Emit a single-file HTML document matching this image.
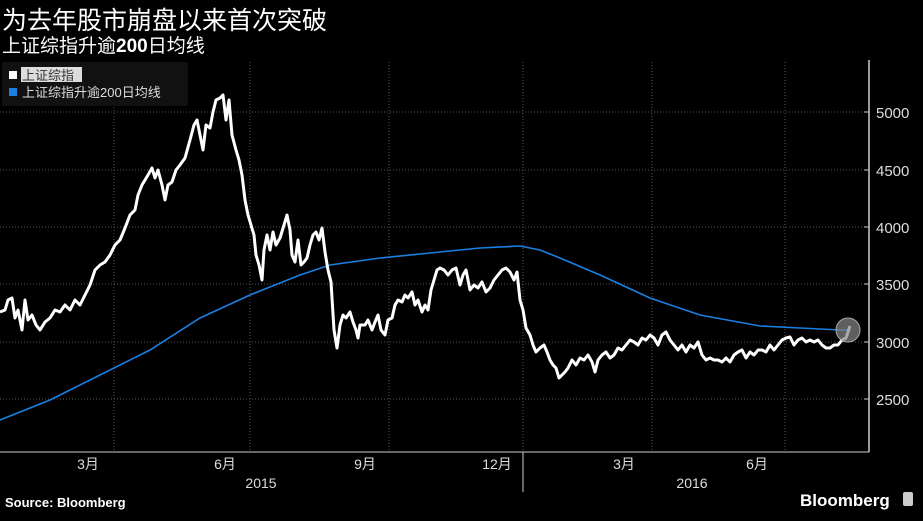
<!DOCTYPE html>
<html><head><meta charset="utf-8"><style>
body{margin:0;background:#000;width:923px;height:516px;overflow:hidden;font-family:"Liberation Sans","Noto Sans CJK SC",sans-serif;}
</style></head><body>
<svg width="923" height="516" xmlns="http://www.w3.org/2000/svg" font-family="Liberation Sans, Noto Sans CJK SC, sans-serif">
<rect width="923" height="516" fill="#000"/>
<text x="2" y="29" fill="#fff" font-size="25">为去年股市崩盘以来首次突破</text>
<text x="2" y="52" fill="#fff" font-size="19">上证综指升逾<tspan font-weight="bold">200</tspan>日均线</text>
<g stroke="#555" stroke-dasharray="1,2" stroke-width="1">
<line x1="0" x2="869" y1="112" y2="112"/><line x1="0" x2="869" y1="170" y2="170"/><line x1="0" x2="869" y1="227" y2="227"/><line x1="0" x2="869" y1="284" y2="284"/><line x1="0" x2="869" y1="342" y2="342"/><line x1="0" x2="869" y1="399" y2="399"/>
<line x1="114" x2="114" y1="62" y2="452"/><line x1="250" x2="250" y1="62" y2="452"/><line x1="389" x2="389" y1="62" y2="452"/><line x1="523" x2="523" y1="62" y2="452"/><line x1="652" x2="652" y1="62" y2="452"/><line x1="785" x2="785" y1="62" y2="452"/>
</g>
<rect x="2" y="62" width="186" height="44" fill="#111" rx="2"/>
<rect x="9" y="71" width="8" height="8" fill="#fff"/>
<rect x="21" y="67" width="61" height="15" fill="#ddd"/>
<text x="22" y="80" fill="#333" font-size="13">上证综指</text>
<rect x="9" y="88" width="8" height="8" fill="#1a7fe0"/>
<text x="22" y="97" fill="#ddd" font-size="13">上证综指升逾200日均线</text>
<line x1="869" y1="60" x2="869" y2="452" stroke="#ccc" stroke-width="1.5"/>
<line x1="0" y1="452" x2="869" y2="452" stroke="#ccc" stroke-width="1"/>
<g fill="#ddd" font-size="15">
<text x="876" y="118">5000</text><text x="876" y="176">4500</text><text x="876" y="233">4000</text><text x="876" y="290">3500</text><text x="876" y="348">3000</text><text x="876" y="405">2500</text>
</g>
<g stroke="#ccc"><line x1="864" x2="869" y1="112" y2="112"/><line x1="864" x2="869" y1="170" y2="170"/><line x1="864" x2="869" y1="227" y2="227"/><line x1="864" x2="869" y1="284" y2="284"/><line x1="864" x2="869" y1="342" y2="342"/><line x1="864" x2="869" y1="399" y2="399"/>
<line x1="523" x2="523" y1="452" y2="492"/></g>
<g fill="#ddd" font-size="14" text-anchor="middle">
<text x="88" y="469">3月</text><text x="225" y="469">6月</text><text x="365" y="469">9月</text><text x="497" y="469">12月</text><text x="624" y="469">3月</text><text x="757" y="469">6月</text>
<text x="261" y="488">2015</text><text x="692" y="488">2016</text>
</g>
<polyline fill="none" stroke="#1a7fe0" stroke-width="1.6" points="0,420 50,400 100,375 150,350 200,318 250,295 300,275 330,265 380,258 430,253 480,248 520,246 540,250 560,258 600,275 650,298 700,315 760,326 800,328 840,330 850,330"/>
<polyline fill="none" stroke="#fff" stroke-width="3" stroke-linejoin="round" points="0,312 5,310 8,300 12,298 15,318 18,310 22,330 25,300 28,320 32,315 36,325 40,330 45,322 50,318 55,310 60,312 65,305 70,310 75,300 80,305 85,295 90,285 95,270 100,265 105,262 110,255 115,245 120,240 125,228 130,215 135,210 138,195 142,185 148,175 152,168 155,178 158,170 162,185 165,200 168,185 172,182 176,170 180,165 185,158 190,140 194,125 197,120 200,135 203,150 206,125 210,128 213,112 216,100 220,98 223,95 226,120 229,100 232,135 236,150 239,160 242,175 245,200 248,215 251,225 254,235 256,255 259,265 262,280 264,250 267,235 270,250 273,232 276,245 280,238 284,225 287,215 290,230 292,255 295,262 298,240 301,265 304,262 307,258 310,245 313,235 316,232 319,240 322,228 325,252 328,270 331,282 334,330 337,348 340,325 343,315 346,318 350,312 353,322 356,330 358,338 360,325 365,325 368,320 372,330 375,322 378,315 381,330 385,335 388,320 392,318 395,305 398,300 402,302 405,295 408,298 412,292 415,305 418,300 422,312 425,305 428,310 431,290 434,280 437,270 440,268 444,270 448,275 452,270 456,268 460,285 463,275 466,270 470,290 474,285 478,288 482,282 486,292 490,288 494,280 498,275 502,270 506,268 510,272 514,280 517,272 520,300 523,310 526,328 530,335 533,345 536,352 540,348 544,345 547,352 550,360 553,365 556,368 559,378 562,375 565,372 568,368 572,360 576,365 580,358 584,360 588,355 592,362 595,372 598,360 602,355 606,352 610,358 614,355 618,348 622,350 626,345 630,340 634,342 638,345 642,338 646,340 650,335 654,338 658,345 662,335 666,332 670,340 674,345 678,350 682,345 686,352 690,345 694,348 698,342 702,355 706,360 710,358 714,360 718,360 722,362 726,358 730,362 734,355 738,352 742,350 746,358 750,352 754,355 758,350 762,350 766,352 770,345 774,350 778,345 782,340 786,338 790,337 794,345 798,340 802,338 806,342 810,340 814,342 818,340 822,345 826,348 830,348 834,345 838,345 842,340 846,338 850,326"/>
<circle cx="848" cy="330" r="12" fill="#888" fill-opacity="0.7" stroke="#aaa"/>
<text x="5" y="507" fill="#fff" font-size="13" font-weight="bold">Source: Bloomberg</text>
<text x="800" y="506" fill="#fff" font-size="17" font-weight="bold">Bloomberg</text>
<rect x="903" y="492" width="10" height="14" fill="#ccc" rx="2"/>
</svg>
</body></html>
